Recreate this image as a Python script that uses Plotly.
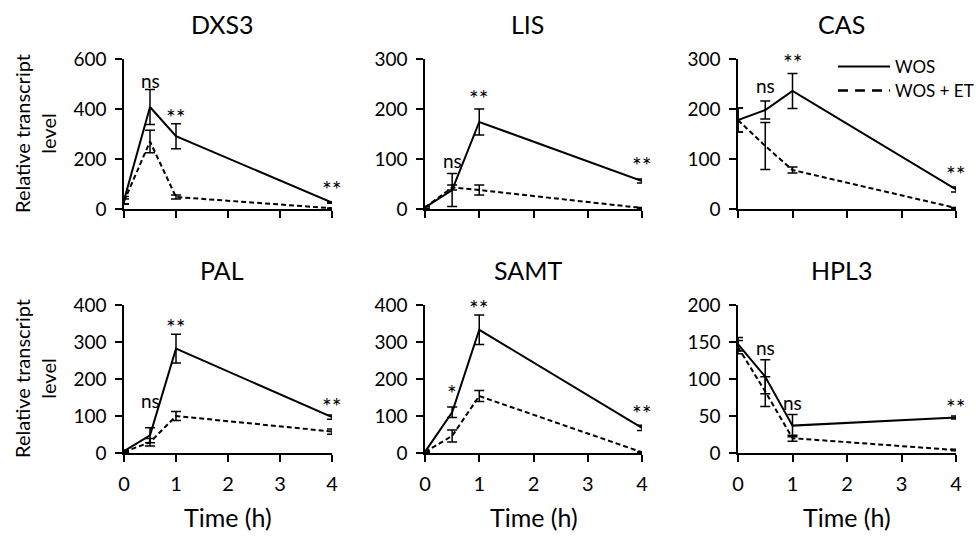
import plotly.graph_objects as go

# ---------------- data ----------------
time_h = [0, 0.5, 1, 4]
genes = ["DXS3", "LIS", "CAS", "PAL", "SAMT", "HPL3"]

wos_mean = {
    "DXS3": [35, 408, 291, 26],
    "LIS": [3, 38, 174, 56],
    "CAS": [178, 198, 236, 39],
    "PAL": [5, 48, 282, 97],
    "SAMT": [3, 110, 333, 68],
    "HPL3": [147, 103, 37, 48],
}
wos_err = {
    "DXS3": [15, 70, 50, 3],
    "LIS": [2, 33, 26, 4],
    "CAS": [24, 18, 35, 5],
    "PAL": [3, 20, 39, 6],
    "SAMT": [2, 14, 40, 7],
    "HPL3": [9, 23, 15, 2],
}
et_mean = {
    "DXS3": [30, 270, 48, 3],
    "LIS": [3, 43, 38, 2],
    "CAS": [178, 126, 78, 2],
    "PAL": [3, 29, 100, 58],
    "SAMT": [3, 46, 154, 2],
    "HPL3": [143, 83, 20, 4],
}
et_err = {
    "DXS3": [10, 45, 8, 1],
    "LIS": [2, 5, 10, 1],
    "CAS": [24, 47, 6, 1],
    "PAL": [2, 10, 12, 7],
    "SAMT": [2, 16, 15, 1],
    "HPL3": [9, 20, 4, 1],
}
y_max = {"DXS3": 600, "LIS": 300, "CAS": 300, "PAL": 400, "SAMT": 400, "HPL3": 200}
y_dtick = {"DXS3": 200, "LIS": 100, "CAS": 100, "PAL": 100, "SAMT": 100, "HPL3": 50}

# significance labels: (time, y-position value, text)
sig_labels = {
    "DXS3": [(0.5, 513, "ns"), (1, 368, "**"), (4, 80, "**")],
    "LIS": [(0.5, 97, "ns"), (1, 222, "**"), (4, 87, "**")],
    "CAS": [(0.5, 246, "ns"), (1, 293, "**"), (4, 69, "**")],
    "PAL": [(0.5, 142, "ns"), (1, 341, "**"), (4, 128, "**")],
    "SAMT": [(0.5, 161, "*"), (1, 393, "**"), (4, 107, "**")],
    "HPL3": [(0.5, 142, "ns"), (1, 68, "ns"), (4, 62, "**")],
}
series_names = ["WOS", "WOS + ET"]
x_ticks = [0, 1, 2, 3, 4]
y_title = "Relative transcript<br>level"
x_title = "Time (h)"

# ---------------- layout geometry ----------------
W, H = 976, 537
FONT = "Lato, 'Open Sans', sans-serif"
col_px = [(124, 332), (425, 642), (738, 956)]
row_px = [(59, 209), (305, 453)]

def xd(a, b):
    return [a / W, b / W]

def yd(a, b):
    return [1 - b / H, 1 - a / H]

fig = go.Figure()
layout = {}
annotations = []

for i, g in enumerate(genes):
    r, c = divmod(i, 3)
    n = i + 1
    xa = "x" if n == 1 else f"x{n}"
    ya = "y" if n == 1 else f"y{n}"
    fig.add_trace(go.Scatter(
        x=time_h, y=wos_mean[g], mode="lines", name=series_names[0],
        line=dict(color="black", width=2), xaxis=xa, yaxis=ya,
        error_y=dict(type="data", array=wos_err[g], color="black", thickness=1.5, width=5),
        showlegend=False, cliponaxis=False,
    ))
    fig.add_trace(go.Scatter(
        x=time_h, y=et_mean[g], mode="lines", name=series_names[1],
        line=dict(color="black", width=2, dash="5px,3px"), xaxis=xa, yaxis=ya,
        error_y=dict(type="data", array=et_err[g], color="black", thickness=1.5, width=5),
        showlegend=False, cliponaxis=False,
    ))
    bottom = r == 1
    layout[f"xaxis{'' if n == 1 else n}"] = dict(
        domain=xd(*col_px[c]), anchor=ya, range=[0, 4], tickvals=x_ticks,
        showticklabels=bottom, ticks="outside", ticklen=7, tickwidth=1.5,
        tickcolor="black", showline=True, linecolor="black", linewidth=1.5,
        showgrid=False, zeroline=False, ticklabelstandoff=5,
        tickfont=dict(family=FONT, size=20, color="black"),
    )
    layout[f"yaxis{'' if n == 1 else n}"] = dict(
        domain=yd(*row_px[r]), anchor=xa, range=[0, y_max[g]], dtick=y_dtick[g],
        ticks="outside", ticklen=7, tickwidth=1.5, tickcolor="black",
        showline=True, linecolor="black", linewidth=1.5, showgrid=False,
        zeroline=False, ticklabelstandoff=5,
        tickfont=dict(family=FONT, size=19, color="black"),
    )
    # title
    x0, x1 = col_px[c]
    annotations.append(dict(
        text=g, xref="paper", yref="paper", x=(x0 + x1) / 2 / W - 0.006,
        y=1 - (row_px[r][0] - 35) / H, showarrow=False,
        font=dict(family=FONT, size=25, color="black"), xanchor="center", yanchor="middle",
    ))
    for (tx, ty, txt) in sig_labels[g]:
        star = "*" in txt
        annotations.append(dict(
            text=txt, x=tx, y=ty, xref=xa, yref=ya, showarrow=False,
            font=dict(family=FONT, size=23 if star else 19, color="black"),
            xanchor="center", yanchor="middle",
        ))
    if bottom:
        annotations.append(dict(
            text=x_title, xref="paper", yref="paper", x=(x0 + x1) / 2 / W,
            y=1 - 517 / H, showarrow=False,
            font=dict(family=FONT, size=25, color="black"), xanchor="center", yanchor="middle",
        ))

for r in range(2):
    y0, y1 = row_px[r]
    annotations.append(dict(
        text=y_title, xref="paper", yref="paper", x=35 / W, y=1 - (y0 + y1) / 2 / H,
        textangle=-90, showarrow=False, align="center",
        font=dict(family=FONT, size=20, color="black"), xanchor="center", yanchor="middle",
    ))

# legend-only entries (no data points), with the legend's longer dash style
fig.add_trace(go.Scatter(
    x=[None], y=[None], mode="lines", name=series_names[0],
    line=dict(color="black", width=2), legend="legend", showlegend=True,
))
fig.add_trace(go.Scatter(
    x=[None], y=[None], mode="lines", name=series_names[1],
    line=dict(color="black", width=2.5, dash="10px,7px"), legend="legend2", showlegend=True,
))

legend_common = dict(
    xanchor="left", yanchor="middle", bgcolor="rgba(0,0,0,0)",
    font=dict(family=FONT, size=17, color="black"), itemwidth=52, borderwidth=0,
)
fig.update_layout(
    **layout,
    annotations=annotations,
    width=W, height=H,
    margin=dict(l=0, r=0, t=0, b=0, autoexpand=False),
    paper_bgcolor="white", plot_bgcolor="white",
    showlegend=True,
    legend=dict(x=833 / W, y=1 - 67 / H, **legend_common),
    legend2=dict(x=833 / W, y=1 - 91 / H, **legend_common),
)

fig.write_html(
    "out.html",
    config={"displayModeBar": False},
    post_script="document.body.style.margin='0px';document.body.style.overflow='hidden';",
)
